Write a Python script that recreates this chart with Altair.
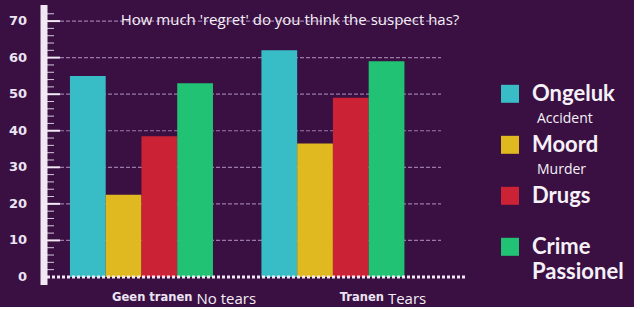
import altair as alt
import pandas as pd

# ---- data ----
groups = ["Geen tranen", "Tranen"]
groups_en = ["No tears", "Tears"]
categories = ["Ongeluk", "Moord", "Drugs", "Crime Passionel"]
values_geen = [55, 22.5, 38.5, 53]
values_tranen = [62, 36.5, 49, 59]

legend_main = ["Ongeluk", "Moord", "Drugs", "Crime"]
legend_sub = ["Accident", "Murder", "", ""]
legend_sub2 = ["", "", "", "Passionel"]

title_text = "How much 'regret' do you think the suspect has?"

y_labels = [0, 10, 20, 30, 40, 50, 60, 70]
grid_vals = [10, 20, 30, 40, 50, 60, 70]
minor_vals = [2, 4, 6, 8, 12, 14, 16, 18, 22, 24, 26, 28, 32, 34, 36, 38,
              42, 44, 46, 48, 52, 54, 56, 58, 62, 64, 66, 68, 72]

bar_colors = ["#38bcc6", "#e0b820", "#cc2236", "#22c275"]
legend_colors = ["#35b5bd", "#d9b21c", "#c8213a", "#3bbd8e"]

BG = "#3a1042"
AXIS_WHITE = "#f2e8f4"
LABEL_COLOR = "#ece4f2"

rows = []
for g, vals in zip(groups, [values_geen, values_tranen]):
    for c, v in zip(categories, vals):
        rows.append({"group": g, "category": c, "value": v})
df = pd.DataFrame(rows)

ydom = [-2.2, 74.4]
yscale = alt.Scale(domain=ydom, nice=False, zero=False)
yaxis = alt.Axis(title=None, labels=False, domain=False, ticks=False, grid=False)

xenc = alt.X(
    "group:N",
    sort=groups,
    scale=alt.Scale(paddingInner=0.253, paddingOuter=0.226, align=0.30),
    axis=alt.Axis(
        title=None, domain=False, ticks=False, labelAlign="right",
        labelOffset=51, labelPadding=6, labelFont="DejaVu Sans",
        labelFontWeight="bold", labelFontSize=11.5, labelColor=LABEL_COLOR,
        labelAngle=0,
    ),
)

bars = alt.Chart(df).mark_bar().encode(
    x=xenc,
    xOffset=alt.XOffset("category:N", sort=categories,
                        scale=alt.Scale(paddingInner=0, paddingOuter=0)),
    y=alt.Y("value:Q", scale=yscale, axis=yaxis),
    y2=alt.datum(0),
    color=alt.Color("category:N", scale=alt.Scale(domain=categories, range=bar_colors),
                    legend=None),
)

grid = alt.Chart(pd.DataFrame({"value": grid_vals})).mark_rule(
    color="#9c78aa", strokeWidth=1.2, strokeDash=[4, 2]
).encode(y=alt.Y("value:Q", scale=yscale, axis=yaxis), x=alt.value(16), x2=alt.value(397))

major = alt.Chart(pd.DataFrame({"value": grid_vals})).mark_rule(
    color=AXIS_WHITE, strokeWidth=2
).encode(y=alt.Y("value:Q", scale=yscale, axis=yaxis), x=alt.value(3), x2=alt.value(16))

minor = alt.Chart(pd.DataFrame({"value": minor_vals})).mark_rule(
    color="#d8c8e0", strokeWidth=1
).encode(y=alt.Y("value:Q", scale=yscale, axis=yaxis), x=alt.value(3), x2=alt.value(10))

ylab = alt.Chart(pd.DataFrame({"value": y_labels})).mark_text(
    font="DejaVu Sans", fontWeight="bold", fontSize=13, color=LABEL_COLOR,
    align="right", baseline="middle"
).encode(y=alt.Y("value:Q", scale=yscale, axis=yaxis), x=alt.value(-17),
         text=alt.Text("value:Q"))

axis_bar = alt.Chart(alt.Data(values=[{}])).mark_rule(
    color=AXIS_WHITE, strokeWidth=7
).encode(y=alt.datum(ydom[0]), y2=alt.datum(ydom[1]), x=alt.value(0))

baseline = alt.Chart(alt.Data(values=[{}])).mark_rule(
    color=AXIS_WHITE, strokeWidth=3, strokeDash=[3, 2]
).encode(y=alt.datum(0), x=alt.value(3), x2=alt.value(421))

title = alt.Chart(alt.Data(values=[{}])).mark_text(
    font="Open Sans", fontSize=15, color="#f4eef6", align="center", baseline="middle"
).encode(x=alt.value(246), y=alt.value(15), text=alt.datum(title_text))

en_labels = alt.Chart(pd.DataFrame({"group": groups, "en": groups_en})).mark_text(
    font="Open Sans", fontSize=15, color="#f4eef6", align="left", baseline="middle", dx=55
).encode(x=alt.X("group:N", sort=groups), y=alt.value(294), text="en:N")

main = alt.layer(grid, minor, major, bars, baseline, axis_bar, ylab, title,
                 en_labels).properties(width=421, height=280)

ldf = pd.DataFrame({
    "category": categories,
    "label": legend_main,
    "sub": legend_sub,
    "sub2": legend_sub2,
})

ly = alt.Y("category:N", sort=categories,
           scale=alt.Scale(type="band", paddingInner=0, paddingOuter=0.745, align=0.833),
           axis=None)

squares = alt.Chart(ldf).mark_square(size=324, opacity=1).encode(
    y=ly, x=alt.value(16),
    color=alt.Color("category:N", scale=alt.Scale(domain=categories, range=legend_colors),
                    legend=None),
)
ltext = alt.Chart(ldf).mark_text(
    font="Lato", fontWeight="bold", fontSize=22, color="#f6f0f8", align="left",
    baseline="middle"
).encode(y=ly, x=alt.value(38), text="label:N")
lsub = alt.Chart(ldf).transform_filter("datum.sub != ''").mark_text(
    font="Open Sans", fontSize=14, color="#f6f0f8", align="left", baseline="middle", dy=25
).encode(y=ly, x=alt.value(43), text="sub:N")
lsub2 = alt.Chart(ldf).transform_filter("datum.sub2 != ''").mark_text(
    font="Lato", fontWeight="bold", fontSize=22, color="#f6f0f8", align="left",
    baseline="middle", dy=25
).encode(y=ly, x=alt.value(38), text="sub2:N")

legend = alt.layer(squares, ltext, lsub, lsub2).properties(width=140, height=280)

chart = alt.hconcat(main, legend, spacing=27).properties(
    background=BG,
    padding={"left": 8, "top": 1, "right": 0, "bottom": 0},
).configure_view(stroke=None)

chart.save("out.html", embed_options={"renderer": "svg", "actions": False})
